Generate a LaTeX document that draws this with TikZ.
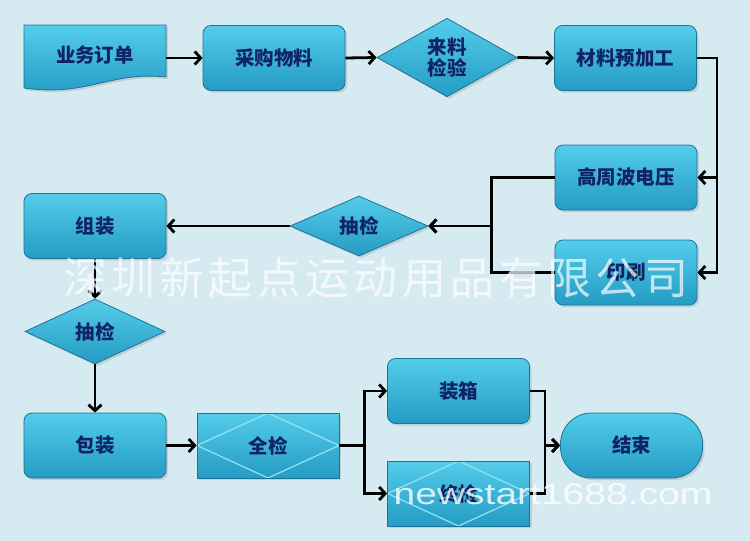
\documentclass[tikz,border=0pt]{standalone}
\usepackage{fontspec}
\usepackage{tikz}
\usetikzlibrary{shapes.geometric,shadows,arrows.meta}
\newfontfamily\cjk{Noto Sans CJK SC}
\newfontfamily\cjkwm[LetterSpace=10]{Noto Sans CJK SC}
\newfontfamily\wmlatin{Liberation Sans}
\definecolor{bgblue}{RGB}{214,234,242}
\definecolor{boxtop}{RGB}{84,204,234}
\definecolor{boxbot}{RGB}{36,156,196}
\definecolor{boxline}{RGB}{28,116,148}
\definecolor{labelblue}{RGB}{16,36,100}
\definecolor{edgelight}{RGB}{150,226,245}

\begin{document}
\begin{tikzpicture}[x=1pt,y=-1pt,
  txt/.style={text=labelblue,font=\cjk\bfseries\fontsize{19.5}{21}\selectfont},
  box/.style={txt,rectangle,rounded corners=8pt,minimum width=142pt,minimum height=65pt,
    top color=boxtop,bottom color=boxbot,draw=boxline,line width=0.8pt,
    drop shadow={opacity=0.25}},
  decide/.style={txt,diamond,inner sep=0pt,align=center,minimum width=140pt,minimum height=65pt,
    top color=boxtop,bottom color=boxbot,draw=boxline,line width=0.8pt,
    drop shadow={opacity=0.25}},
  qcbox/.style={box,rounded corners=0pt,
    path picture={\draw[edgelight,line width=1.2pt]
      (path picture bounding box.west) -- (path picture bounding box.north)
      -- (path picture bounding box.east) -- (path picture bounding box.south) -- cycle;}},
  flow/.style={line width=2.8pt,-{Straight Barb[length=6pt,width=13pt]}}]
  \useasboundingbox (0,0) rectangle (750,541);
  \fill[bgblue] (0,0) rectangle (750,541);

  %top row
  \path[top color=boxtop,bottom color=boxbot,draw=boxline,line width=0.8pt,drop shadow={opacity=0.25}]
    (24,25) -- (166,25) -- (166,77) .. controls (110,71) and (88,97) .. (24,88) -- cycle;
  \node[txt,minimum width=142pt,minimum height=62pt] (order) at (95,55) {业务订单};
  \node[box] (buy) at (274,58) {采购物料};
  \node[decide] (check) at (447,57.5) {来料\\检验};
  \node[box] (pre) at (625.5,58) {材料预加工};

  %right column
  \node[box] (hf) at (626,177.5) {高周波电压};
  \node[box] (print) at (626,272.5) {印刷};

  %left column
  \node[decide,minimum width=138pt,minimum height=60pt] (insp1) at (359,226) {抽检};
  \node[box] (asm) at (95,226) {组装};
  \node[decide] (insp2) at (95,331.5) {抽检};
  \node[box] (pack) at (95,445.5) {包装};

  %bottom row
  \node[qcbox] (allqc) at (268,445.5) {全检};
  \node[box] (boxing) at (458.5,391) {装箱};
  \node[qcbox] (finalqc) at (458.5,493.5) {终检};
  \node[box,rounded corners=31pt] (finish) at (631.5,445.5) {结束};

  %connectors
  \draw[flow] (order.east |- buy.west) -- (buy.west);
  \draw[flow] (buy.east) -- (check.west);
  \draw[flow] (check.east) -- (pre.west);
  \draw[flow] (pre.east) -- ++(20,0) |- (hf.east);
  \draw[flow] (pre.east) -- ++(20,0) |- (print.east);
  \draw[flow] (hf.west) -- ++(-63,0) |- (insp1.east);
  \draw[flow] (print.west) -- ++(-63,0) |- (insp1.east);
  \draw[flow] (insp1.west) -- (asm.east);
  \draw[flow] (asm.south) -- (insp2.north);
  \draw[flow] (insp2.south) -- (pack.north);
  \draw[flow] (pack.east) -- (allqc.west);
  \draw[flow] (allqc.east) -- ++(25,0) |- (boxing.west);
  \draw[flow] (allqc.east) -- ++(25,0) |- (finalqc.west);
  \draw[flow] (boxing.east) -- ++(15,0) |- (finish.west);
  \draw[flow] (finalqc.east) -- ++(15,0) |- (finish.west);

  %watermarks
  \node[text=white,text opacity=0.7,font=\cjkwm\fontsize{44}{48}\selectfont] (wmcn) at (376,278) {深圳新起点运动用品有限公司};
  \node[text=white,text opacity=0.8,font=\wmlatin\fontsize{30}{34}\selectfont] (wmen) at (553,494) {\scalebox{1.3}[1]{newstart1688.com}};
\end{tikzpicture}
\end{document}
